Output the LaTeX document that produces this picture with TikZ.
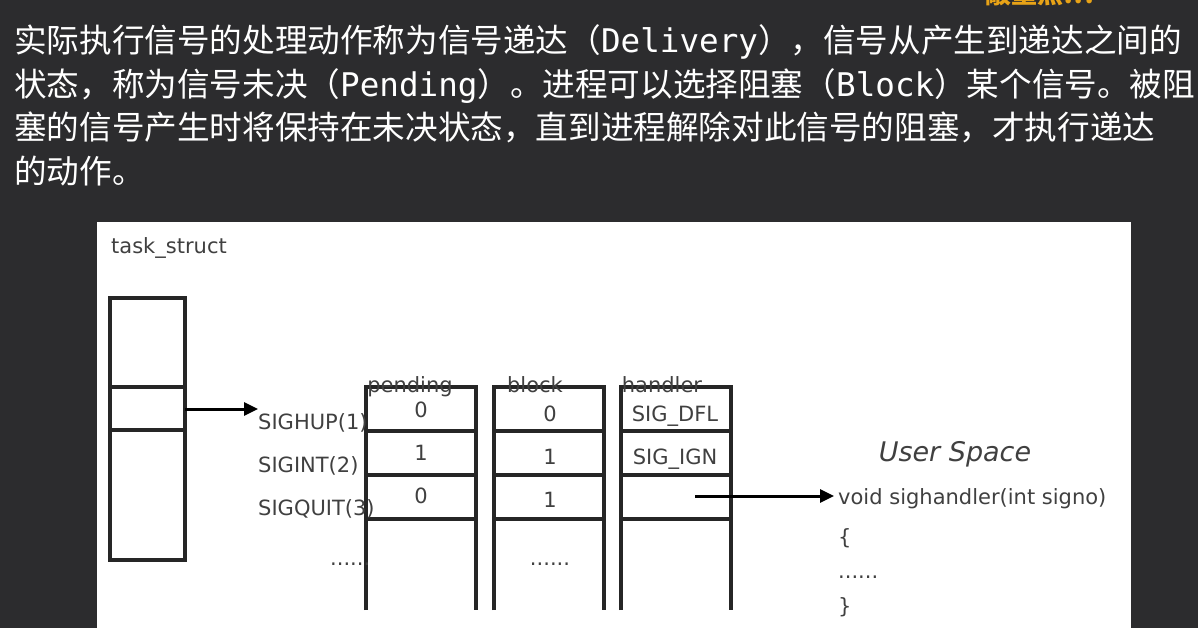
\documentclass[tikz,border=0pt]{standalone}
\usepackage{fontspec}
\setmainfont{Liberation Sans}
\newfontfamily\cjk{Noto Sans CJK SC}
\newfontfamily\monof{DejaVu Sans Mono}
\newfontfamily\dv{DejaVu Sans}
\definecolor{bg}{HTML}{2C2C2E}
\definecolor{hl}{HTML}{E8A317}
\usetikzlibrary{arrows.meta}
\begin{document}
\begin{tikzpicture}[x=1pt,y=-1pt,
  top/.style={anchor=base west,inner sep=0,text=white,font=\cjk\fontsize{32.6}{33}\selectfont},
  lbl/.style={font=\dv\fontsize{21}{21}\selectfont,text=black!75,inner sep=0},
  cell/.style={draw=black!85,line width=3.5pt},
  arr/.style={line width=3pt,-{Triangle[length=14pt,width=13pt]}}]
\fill[bg] (0,0) rectangle (1198,628);
\useasboundingbox (0,0) rectangle (1198,628);
\node[anchor=base,text=hl,font=\cjk\bfseries\fontsize{26}{26}\selectfont,inner sep=0] (hl) at (1040,4) {敲重点!!!};
\node[top] (l1) at (14,53) {实际执行信号的处理动作称为信号递达（{\monof Delivery}），信号从产生到递达之间的};
\node[top] (l2) at (14,97) {状态，称为信号未决（{\monof Pending}）。进程可以选择阻塞（{\monof Block}）某个信号。被阻};
\node[top] (l3) at (14,140) {塞的信号产生时将保持在未决状态，直到进程解除对此信号的阻塞，才执行递达};
\node[top] (l4) at (14,184) {的动作。};
\fill[white] (97,222) rectangle (1131,628);
\node[lbl,anchor=base west] (ts) at (111,254) {task\_struct};
\draw[cell] (110,298) rectangle (185,560);
\draw[cell] (110,387) -- (185,387) (110,430) -- (185,430);
\coordinate (tsout) at (185,409);
\foreach \x in {366,494,621}{
  \draw[cell] (\x,610) -- (\x,387) -- (\x+110,387) -- (\x+110,610);
  \foreach \y in {431,475,519}{\draw[cell] (\x,\y) -- (\x+110,\y);}
}
\node[lbl,anchor=base] (ph) at (410,392) {pending};
\node[lbl,anchor=base] (bh) at (535,392) {block};
\node[lbl,anchor=base] (hh) at (662,392) {handler};
\node[lbl,anchor=base west] (s1) at (258,429) {SIGHUP(1)};
\node[lbl,anchor=base west] (s2) at (258,472) {SIGINT(2)};
\node[lbl,anchor=base west] (s3) at (258,515) {SIGQUIT(3)};
\node[lbl,anchor=base west] (d1) at (330,565) {......};
\node[lbl,anchor=base] (d2) at (550,565) {......};
\draw[arr] (tsout) -- (s1.north west|-tsout);
\foreach \v/\y/\n in {0/417/a,1/460/b,0/503/c}{\node[lbl,anchor=base] (p\n) at (421,\y) {\v};}
\foreach \v/\y/\n in {0/421/a,1/464/b,1/507/c}{\node[lbl,anchor=base] (b\n) at (550,\y) {\v};}
\node[lbl,anchor=base] (h1) at (675,421) {SIG\_DFL};
\node[lbl,anchor=base] (h2) at (675,464) {SIG\_IGN};
\node[lbl,anchor=base,font=\dv\itshape\fontsize{27}{27}\selectfont] (us) at (955,461) {User Space};
\node[lbl,anchor=base west] (f1) at (838,504) {void sighandler(int signo)};
\node[lbl,anchor=base west] (f2) at (838,544) {\{};
\node[lbl,anchor=base west] (f3) at (838,578) {......};
\node[lbl,anchor=base west] (f4) at (838,613) {\}};
\coordinate (hout) at (695,496);
\draw[arr] (hout) -- ([xshift=-4pt]f1.west|-hout);
\end{tikzpicture}
\end{document}
